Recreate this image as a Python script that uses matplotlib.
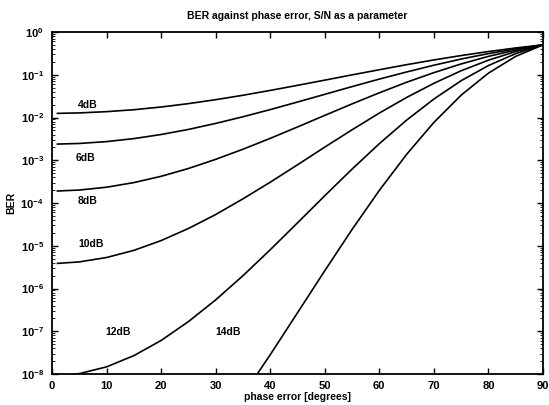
import numpy as np
from matplotlib import pyplot as plt
from matplotlib.ticker import LogLocator, NullFormatter

plt.rcParams['font.family'] = ['Liberation Sans', 'DejaVu Sans']
plt.rcParams['font.weight'] = 'bold'

# faza w stopniach
phase = [1, 5, 10, 15, 20, 25, 30, 35, 40, 45, 50, 55, 60, 65, 70, 75, 80, 85, 90]

ber_4db = [0.0125, 0.0128, 0.0137, 0.0152, 0.0176, 0.0211, 0.0261, 0.0331, 0.0430, 0.0565,
           0.0748, 0.0993, 0.131, 0.172, 0.222, 0.281, 0.349, 0.423, 0.5]
ber_6db = [2.39e-3, 2.47e-3, 2.73e-3, 3.21e-3, 4.00e-3, 5.26e-3, 7.27e-3, 0.0104, 0.0153, 0.0230,
           0.0348, 0.0528, 0.0791, 0.116, 0.167, 0.233, 0.312, 0.403, 0.5]
ber_8db = [1.91e-4, 2.01e-4, 2.34e-4, 3.00e-4, 4.21e-4, 6.41e-4, 1.05e-3, 1.81e-3, 3.25e-3, 6.00e-3,
           0.0112, 0.0208, 0.0378, 0.0667, 0.112, 0.179, 0.269, 0.378, 0.5]
ber_10db = [3.87e-6, 4.19e-6, 5.31e-6, 7.80e-6, 1.32e-5, 2.53e-5, 5.37e-5, 1.25e-4, 3.06e-4, 7.82e-4,
            2.03e-3, 5.15e-3, 0.0127, 0.0294, 0.0630, 0.124, 0.219, 0.349, 0.5]
ber_12db = [9.0e-9, 1.02e-8, 1.47e-8, 2.69e-8, 6.09e-8, 1.68e-7, 5.41e-7, 1.99e-6, 8.05e-6, 3.43e-5,
            1.48e-4, 6.19e-4, 2.44e-3, 8.67e-3, 0.0270, 0.0725, 0.164, 0.312, 0.5]
phase_14 = [35, 40, 45, 50, 55, 60, 65, 70, 75, 80, 85, 90]
ber_14db = [3.2e-9, 2.82e-8, 2.70e-7, 2.60e-6, 2.40e-5, 1.97e-4, 1.37e-3, 7.67e-3, 0.0333, 0.109, 0.269, 0.5]

labels = ['4dB', '6dB', '8dB', '10dB', '12dB', '14dB']
label_x = [4.7, 4.4, 4.7, 4.9, 9.7, 29.9]
label_y = [2.0e-2, 1.1e-3, 1.1e-4, 1.1e-5, 9.5e-8, 9.5e-8]

fig = plt.figure(figsize=(5.49, 4.05), dpi=100)
ax = fig.add_axes([0.0947, 0.0765, 0.8943, 0.8445])

for y in [ber_4db, ber_6db, ber_8db, ber_10db, ber_12db]:
    ax.plot(phase, y, color='black', lw=1.2)
ax.plot(phase_14, ber_14db, color='black', lw=1.2)

for t, x, y in zip(labels, label_x, label_y):
    ax.text(x, y, t, fontsize=7.5, fontweight='bold', va='center', ha='left')

ax.set_yscale('log')
ax.set_xlim(0, 90)
ax.set_ylim(1e-8, 1)
ax.set_xticks(range(0, 91, 10))
ax.yaxis.set_major_locator(LogLocator(base=10, numticks=20))
ax.yaxis.set_minor_locator(LogLocator(base=10, subs=np.arange(2, 10), numticks=20))
ax.yaxis.set_minor_formatter(NullFormatter())
ax.tick_params(which='both', direction='in', top=True, right=True, labelsize=8)
ax.tick_params(which='major', length=4, width=1)
ax.tick_params(which='minor', length=2)
ax.tick_params(axis='y', pad=6)
ax.tick_params(axis='x', pad=5)
for s in ax.spines.values():
    s.set_linewidth(1.3)

ax.set_title('BER against phase error, S/N as a parameter', fontsize=7.5, fontweight='bold', pad=9)
ax.set_xlabel('phase error [degrees]', fontsize=7.5, fontweight='bold', labelpad=1)
ax.set_ylabel('BER', fontsize=7.5, fontweight='bold', labelpad=3)

fig.savefig('out.png', dpi=100)
